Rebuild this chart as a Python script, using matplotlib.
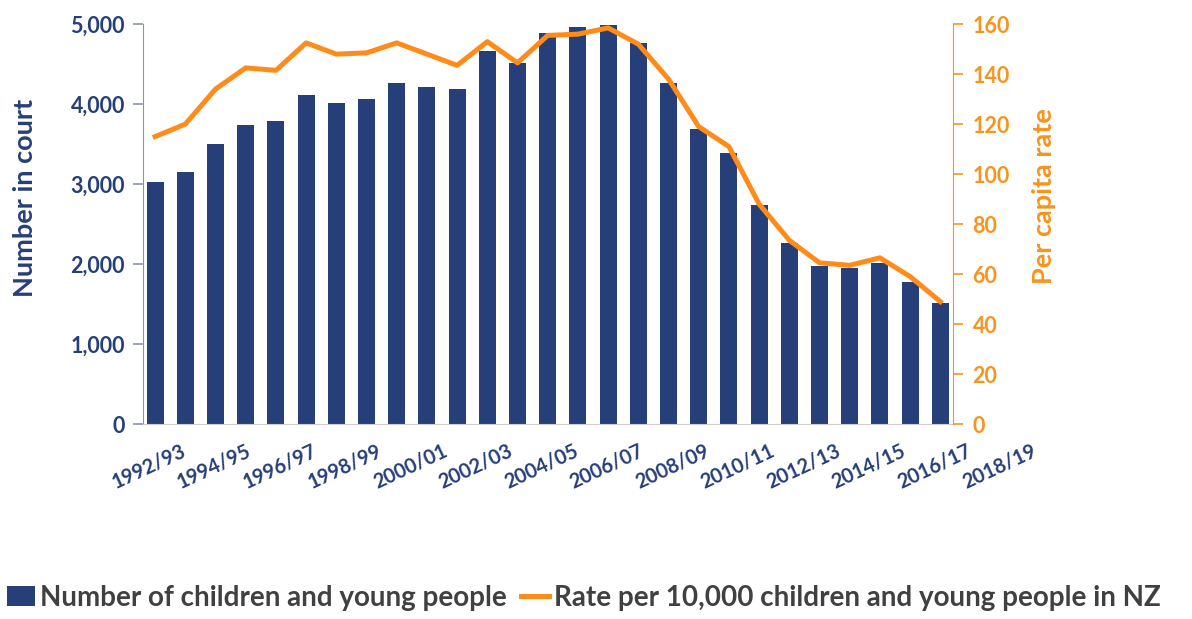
import numpy as np
import matplotlib.pyplot as plt
import matplotlib.transforms as mtransforms
from matplotlib.ticker import FuncFormatter

# Barn och unga i domstol, 1992/93 - 2018/19
years = ['1992/93', '1993/94', '1994/95', '1995/96', '1996/97', '1997/98', '1998/99',
         '1999/00', '2000/01', '2001/02', '2002/03', '2003/04', '2004/05', '2005/06',
         '2006/07', '2007/08', '2008/09', '2009/10', '2010/11', '2011/12', '2012/13',
         '2013/14', '2014/15', '2015/16', '2016/17', '2017/18', '2018/19']
number_in_court = [3030, 3150, 3500, 3745, 3790, 4110, 4015, 4070, 4265, 4215, 4195,
                   4665, 4520, 4885, 4965, 4995, 4765, 4265, 3685, 3385, 2735,
                   2265, 1980, 1945, 2010, 1780, 1510]
rate_per_10000 = [115, 120, 134, 142.5, 141.5, 152.5, 148, 148.5, 152.5, 148, 143.5,
                  153, 144.5, 155.5, 156, 158.5, 152, 138, 119, 111, 88,
                  73.5, 64.5, 63.5, 66.5, 59, 49]

navy = '#263F78'
orange = '#FF8C1A'
orange_axis = '#F7941D'

plt.rcParams['font.family'] = ['Lato', 'DejaVu Sans']
plt.rcParams['font.weight'] = 'bold'

fig = plt.figure(figsize=(11.92, 6.19), dpi=100)
ax = fig.add_axes([0.12, 0.315, 0.6795, 0.646])
x = np.arange(len(years))

bars = ax.bar(x, number_in_court, width=0.56, color=navy, zorder=2,
              label='Number of children and young people')
ax.set_xlim(-0.4, 26.42)
ax.set_ylim(0, 5000)
ax.set_yticks(range(0, 5001, 1000))
ax.yaxis.set_major_formatter(FuncFormatter(lambda v, p: f'{int(v):,}'))
ax.tick_params(axis='y', colors='#8A93AE', labelcolor=navy, labelsize=15.5,
               length=7, width=1.2, pad=6)
ax.set_ylabel('Number in court', color=navy, fontsize=19.5, fontweight='bold')
ax.yaxis.set_label_coords(-0.131, 0.565)

# kategorietiketter: i originalet är de lite utspridda i förhållande till staplarna
ax.set_xticks(x[::2])
ax.set_xticklabels([])
ax.tick_params(axis='x', length=0)
lbl_trans = mtransforms.offset_copy(
    mtransforms.blended_transform_factory(ax.transData, ax.transAxes),
    fig=fig, x=0, y=-17, units='dots')
for i in x[::2]:
    ax.text(0.83 + i * 1.0835, 0, years[i], transform=lbl_trans, rotation=25,
            rotation_mode='anchor', ha='right', va='top', fontsize=14.5,
            color=navy, clip_on=False)

ax.spines['top'].set_visible(False)
ax.spines['right'].set_visible(False)
ax.spines['left'].set_color('#8A93AE')
ax.spines['bottom'].set_color('#D0D0D0')

ax2 = ax.twinx()
line, = ax2.plot(x, rate_per_10000, color=orange, linewidth=3.6, zorder=3,
                 label='Rate per 10,000 children and young people in NZ')
ax2.set_ylim(0, 160)
ax2.set_yticks(range(0, 161, 20))
ax2.tick_params(axis='y', colors=orange_axis, labelcolor=orange_axis, labelsize=15.5,
                length=7, width=1.2, pad=7)
ax2.set_ylabel('Per capita rate', color=orange_axis, fontsize=19.5, fontweight='bold')
ax2.yaxis.set_label_coords(1.097, 0.57)
for s in ['top', 'left', 'bottom']:
    ax2.spines[s].set_visible(False)
ax2.spines['right'].set_color(orange_axis)

fig.legend(handles=[bars, line], loc='lower center', bbox_to_anchor=(0.49, 0.0), ncol=2,
           frameon=False, fontsize=20, labelcolor='#404040', handlelength=1.0,
           handletextpad=0.2, columnspacing=0.5, borderaxespad=0.1, borderpad=0.2)

fig.savefig('out.png', dpi=100)
